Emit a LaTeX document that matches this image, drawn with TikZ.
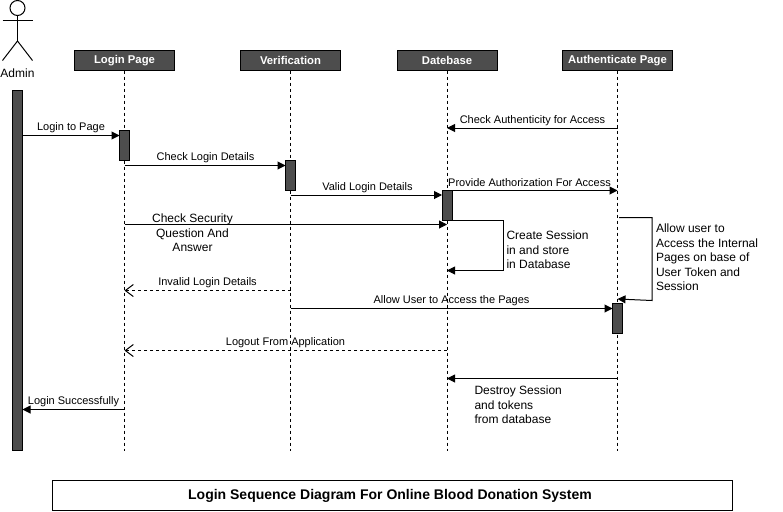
\documentclass[tikz,border=0pt]{standalone}
\usepackage{fontspec}
\setmainfont{Liberation Sans}
\usetikzlibrary{arrows.meta,positioning,calc}
\definecolor{barfill}{HTML}{4D4D4D}
\tikzset{
 head/.style={draw=black,fill=barfill,text=white,font=\fontsize{11.3}{14}\selectfont\bfseries,minimum width=100pt,minimum height=20pt,inner sep=0pt,outer sep=0pt},
 bar/.style={draw=black,fill=barfill,minimum width=10pt,inner sep=0pt,outer sep=0pt},
 life/.style={dashed,dash pattern=on 3pt off 3pt},
 msg/.style={-{Triangle[length=8pt,width=8pt]}},
 back/.style={dash pattern=on 3pt off 3pt,-{Straight Barb[length=8pt,width=12pt]}},
 lbl/.style={font=\fontsize{11}{14}\selectfont,inner sep=0pt},
 note/.style={font=\fontsize{12}{14.5}\selectfont,inner sep=0pt,align=left,anchor=north west}
}
\begin{document}
\begin{tikzpicture}[x=1pt,y=-1pt,>=Latex,line width=1pt]
\useasboundingbox (0,0) rectangle (783,511);
% actor
\node[circle,draw,minimum size=15pt,inner sep=0pt,outer sep=0pt] (adminHead) at (17.5,8){};
\coordinate (adminHip) at (17.5,41);
\coordinate (adminArmL) at (2.5,20.5);
\coordinate (adminArmR) at (32.5,20.5);
\coordinate (adminLegL) at (2.5,60.5);
\coordinate (adminLegR) at (32.5,60.5);
\draw (adminHead.south)--(adminHip);
\draw (adminArmL)--(adminArmR);
\draw (adminLegL)--(adminHip)--(adminLegR);
\node[lbl,font=\fontsize{12}{14}\selectfont] (adminName) at (17.5,73.5){Admin};
% heads
\node[head] (headLogin) at (124.5,60.5){Login Page};
\node[head] (headVerify) at (290.5,60.5){Verification};
\node[head] (headDb) at (447,60.5){Datebase};
\node[head,minimum width=110pt] (headAuth) at (617.5,60.5){Authenticate Page};
% lifelines
\coordinate (endLogin) at (124.5,450.5);
\coordinate (endVerify) at (290.5,450.5);
\coordinate (endDb) at (447,450.5);
\coordinate (endAuth) at (617.5,450.5);
\draw[life] (headLogin)--(endLogin);
\draw[life] (headVerify)--(endVerify);
\draw[life] (headDb)--(endDb);
\draw[life] (headAuth)--(endAuth);
% bars
\node[bar,minimum height=360pt] (barAdmin) at (17.5,270.5){};
\node[bar,minimum height=30pt] (barLogin) at (124.5,145.5){};
\node[bar,minimum height=30pt] (barVerify) at (290.5,175.5){};
\node[bar,minimum height=30pt] (barDb) at (447,205.5){};
\node[bar,minimum height=30pt] (barAuth) at (617.5,318){};
% messages
\draw[msg] (barAdmin.east |- 0,135.5)--(barLogin.west |- 0,135.5);
\node[lbl] (txtLoginPage) at (71,127.5){Login to Page};
\draw[msg] (endLogin |- 0,165.5)--(barVerify.west |- 0,165.5);
\node[lbl] (txtCheckLogin) at (205.5,157.5){Check Login Details};
\draw[msg] (endVerify |- 0,195)--(barDb.west |- 0,195);
\node[lbl] (txtValid) at (367.5,187.5){Valid Login Details};
\draw[msg] (endAuth |- 0,128)--(endDb |- 0,128);
\node[lbl] (txtAuthentic) at (532.5,120.5){Check Authenticity for Access};
\draw[msg] (barDb.east |- 0,190.5)--(endAuth |- 0,190.5);
\node[lbl] (txtProvide) at (529.5,182.5){Provide Authorization For Access};
\draw[msg] (endLogin |- 0,224.5)--(endDb |- 0,224.5);
\node[note,align=center,anchor=center] (txtSecurity) at (192.5,233){Check Security\\Question And\\Answer};
\coordinate (dbLoopA) at (503,220.5);
\coordinate (dbLoopB) at (503,270.5);
\draw[msg] (barDb.south east)--(dbLoopA)--(dbLoopB)--(endDb |- dbLoopB);
\node[note] (txtSession) at (506,230.5){Create Session\\in and store\\in Database};
\coordinate (authLoopA) at (652,217.5);
\coordinate (authLoopB) at (652,300.5);
\draw[msg] (619,217.5)--(authLoopA)--(authLoopB)--(endAuth |- 0,299);
\node[note] (txtAllow) at (655.5,223.5){Allow user to\\Access the Internal\\Pages on base of\\User Token and\\Session};
\draw[back] (endVerify |- 0,290.5)--(endLogin |- 0,290.5);
\node[lbl] (txtInvalid) at (207.5,282.5){Invalid Login Details};
\draw[msg] (endVerify |- 0,308.5)--(barAuth.west |- 0,308.5);
\node[lbl] (txtPages) at (451.5,300.5){Allow User to Access the Pages};
\draw[back] (endDb |- 0,350.5)--(endLogin |- 0,350.5);
\node[lbl] (txtLogout) at (285.5,342.5){Logout From Application};
\draw[msg] (endAuth |- 0,378.5)--(endDb |- 0,378.5);
\node[note] (txtDestroy) at (474,385.5){Destroy Session\\and tokens\\from database};
\draw[msg] (endLogin |- 0,409.5)--(barAdmin.east |- 0,409.5);
\node[lbl] (txtSuccess) at (73.5,401.5){Login Successfully};
% title
\node[draw,minimum width=680pt,minimum height=30pt,inner sep=0pt,font=\fontsize{14}{16}\selectfont\bfseries] (title) at (392.5,495.5){\hspace*{-5pt}Login Sequence Diagram For Online Blood Donation System};
\end{tikzpicture}
\end{document}
